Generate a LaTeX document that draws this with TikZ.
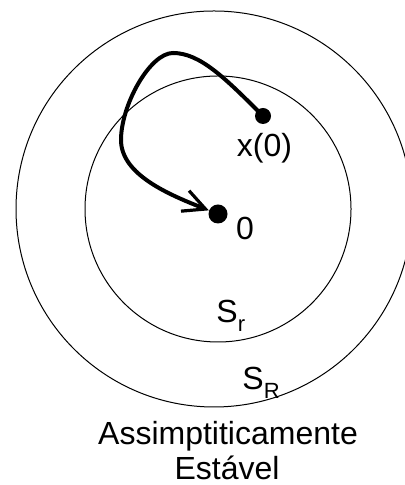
\documentclass[tikz,border=0pt]{standalone}
\usepackage{fontspec}
\setmainfont{Liberation Sans}
\usetikzlibrary{arrows.meta}
\newcommand{\lowsub}[1]{\raisebox{-0.28em}{\fontsize{11}{11}\selectfont #1}}
\tikzset{
  sphere/.style={line width=0.5pt},
  dot/.style={circle, fill=black, inner sep=0pt},
  traj/.style={line width=2pt, -{Straight Barb[length=11pt, width=11pt, line width=1.6pt]}},
  lbl/.style={inner sep=0pt, font=\fontsize{16}{18}\selectfont}
}
\begin{document}
\begin{tikzpicture}[x=0.5pt, y=0.5pt]

  \useasboundingbox (0,0) rectangle (405,485);
  \clip (0,0) rectangle (405,485);

  % Spheres S_R and S_r
  \draw[sphere] (214,276) circle[radius=198];
  \draw[sphere] (218,276) circle[radius=133];

  % Initial state and equilibrium
  \node[dot, minimum size=8pt] (x0) at (263,369) {};
  \node[dot, minimum size=9.5pt] (o) at (218,271) {};

  % Trajectory from x(0) to the origin
  \draw[traj] (x0.center) .. controls (225,407) and (200,432) .. (173,432)
    .. controls (150,432) and (121,380) .. (121,345)
    .. controls (121,310) and (170,290) .. (o);

  % Labels
  \node[lbl, anchor=base] (lx0) at (264.5,328) {x(0)};
  \node[lbl, anchor=base] (lo) at (245,245) {0};
  \node[lbl, anchor=base west] (lsr) at (216,162) {S\lowsub{r}};
  \node[lbl, anchor=base west] (lsR) at (242,95) {S\lowsub{R}};

  % Caption
  \node[lbl, anchor=base] (cap1) at (228,40) {Assimptiticamente};
  \node[lbl, anchor=base] (cap2) at (227,5) {Estável};

\end{tikzpicture}
\end{document}
